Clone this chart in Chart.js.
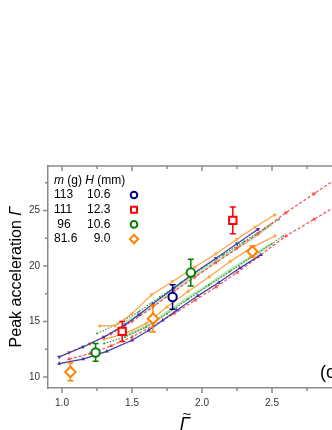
<!DOCTYPE html>
<html>
<head>
<meta charset="utf-8">
<script src="https://cdn.jsdelivr.net/npm/chart.js@4.4.1/dist/chart.umd.min.js"></script>
<style>
  html, body { margin: 0; padding: 0; background: #fff; overflow: hidden; }
  #wrap { position: absolute; left: 0; top: 0; width: 400px; height: 430px; }
</style>
</head>
<body>
<div id="wrap"><canvas id="chart"></canvas></div>
<script>
/* ── data ── */

// experiments (value, error bar half-length)
const navyX = [1.79];             const navyY = [17.2];              const navyErr = [1.1];
const redX = [1.43, 2.22];        const redY = [14.1, 24.1];         const redErr = [0.9, 1.2];
const greenX = [1.24, 1.92];      const greenY = [12.2, 19.4];       const greenErr = [0.8, 1.2];
const orangeX = [1.06, 1.65, 2.36]; const orangeY = [10.45, 15.25, 21.3]; const orangeErr = [0.8, 1.2, 0.5];

// simulations, upper and lower branch
const navyUpX = [0.98, 1.15, 1.3, 1.45, 1.55, 1.65, 1.8, 1.95, 2.1, 2.25, 2.4];
const navyUpY = [11.8, 12.7, 13.6, 14.7, 15.6, 16.6, 18.0, 19.4, 20.7, 22.0, 23.3];
const navyLoX = [0.98, 1.15, 1.32, 1.5, 1.62, 1.72, 1.82, 1.97, 2.12, 2.27, 2.42];
const navyLoY = [11.2, 11.6, 12.3, 13.3, 14.2, 15.1, 16.0, 17.3, 18.5, 19.8, 21.0];

const redUpX = [1.05, 1.2, 1.35, 1.5, 1.65, 1.8, 1.95, 2.1, 2.25, 2.4, 2.6, 2.8, 3.0, 3.2];
const redUpY = [12.2, 13.0, 13.9, 15.0, 16.3, 17.7, 19.0, 20.3, 21.6, 22.9, 24.8, 26.5, 28.2, 29.9];
const redLoX = [1.05, 1.2, 1.35, 1.5, 1.65, 1.8, 1.95, 2.1, 2.25, 2.4, 2.6, 2.8, 3.0, 3.2];
const redLoY = [11.6, 12.1, 12.8, 13.6, 14.6, 15.7, 16.9, 18.1, 19.4, 20.8, 22.7, 24.2, 25.7, 27.2];

const orUpX = [1.27, 1.38, 1.5, 1.64, 1.79, 1.95, 2.1, 2.25, 2.38, 2.52];
const orUpY = [14.6, 14.6, 15.7, 17.4, 18.6, 19.9, 21.1, 22.4, 23.5, 24.6];
const orLoX = [1.3, 1.45, 1.6, 1.75, 1.9, 2.05, 2.2, 2.35, 2.52];
const orLoY = [13.4, 13.9, 14.8, 16.3, 17.7, 19.0, 20.4, 21.6, 22.7];

const grUpX = [1.25, 1.4, 1.55, 1.7, 1.85, 2.0, 2.15, 2.3, 2.45, 2.55];
const grUpY = [13.9, 14.8, 15.9, 17.2, 18.5, 19.8, 21.0, 22.2, 23.4, 24.2];
const grLoX = [1.3, 1.45, 1.6, 1.75, 1.9, 2.05, 2.2, 2.35, 2.5, 2.58];
const grLoY = [13.0, 13.6, 14.5, 15.7, 17.0, 18.3, 19.5, 20.8, 22.0, 22.7];

const lgUpX = [1.45, 1.6, 1.75, 1.9, 2.05, 2.2, 2.35, 2.5];
const lgUpY = [14.9, 16.0, 17.4, 18.7, 20.0, 21.2, 22.4, 23.8];
const lgLoX = [1.45, 1.6, 1.75, 1.9, 2.05, 2.2, 2.35, 2.5];
const lgLoY = [13.7, 14.5, 15.8, 17.1, 18.3, 19.6, 20.8, 22.0];

// axes
const xTicks = [1.0, 1.5, 2.0, 2.5, 3.0];
const xMinorTicks = [1.25, 1.75, 2.25, 2.75];
const yTicks = [10, 15, 20, 25];
const yMinorTicks = [12.5, 17.5, 22.5, 27.5];

// legend text
const legendMass = ['113', '111', ' 96', '81.6'];
const legendHeight = ['10.6', '12.3', '10.6', '  9.0'];

/* ── styling ── */
const FONT = "'Liberation Sans', Arial, sans-serif";
const AXIS = '#8a8a8a';
const C = { navy: '#000080', red: '#ff0000', green: '#008000', orange: '#ff8000' };

const pts = (xs, ys) => xs.map((x, i) => ({ x: x, y: ys[i] }));

function expSet(xs, ys, errs, color, style, r) {
    return {
        data: pts(xs, ys), errY: errs,
        borderColor: color, backgroundColor: '#fff',
        pointStyle: style, pointRadius: r, pointBorderWidth: 2, showLine: false
    };
}

function simSet(xs, ys, color, down, extra) {
    return Object.assign({
        data: pts(xs, ys), showLine: true,
        borderColor: color, backgroundColor: color, borderWidth: 1.2,
        pointStyle: 'triangle', pointRadius: 2.4, pointBorderWidth: 0,
        pointRotation: down ? 180 : 0
    }, extra || {});
}

const datasets = [
    expSet(navyX, navyY, navyErr, C.navy, 'circle', 4.2),
    expSet(redX, redY, redErr, C.red, 'rect', 5.2),
    expSet(greenX, greenY, greenErr, C.green, 'circle', 4.2),
    expSet(orangeX, orangeY, orangeErr, C.orange, 'rectRot', 5.2),
    simSet(navyUpX, navyUpY, '#3a3aa8', true),
    simSet(navyLoX, navyLoY, '#3a3aa8', false),
    simSet(redUpX, redUpY, '#ff4a4a', true, { borderDash: [3, 2] }),
    simSet(redLoX, redLoY, '#ff4a4a', false, { borderDash: [3, 2] }),
    simSet(orUpX, orUpY, '#ffa040', true),
    simSet(orLoX, orLoY, '#ffa040', false),
    simSet(grUpX, grUpY, '#3a9a3a', true, { borderDash: [1.5, 1.5], pointRadius: 1.5 }),
    simSet(grLoX, grLoY, '#3a9a3a', false, { borderDash: [1.5, 1.5], pointRadius: 1.5 }),
    simSet(lgUpX, lgUpY, 'rgba(150,210,150,0.6)', true, { borderWidth: 3, pointRadius: 0 }),
    simSet(lgLoX, lgLoY, 'rgba(150,210,150,0.6)', false, { borderWidth: 3, pointRadius: 0 })
];

// error bars under the experimental markers
const errorBars = {
    id: 'errorBars',
    beforeDatasetDraw(chart, args) {
        const ds = chart.data.datasets[args.index];
        if (!ds.errY) return;
        const xs = chart.scales.x, ys = chart.scales.y, ctx = chart.ctx;
        ctx.save();
        ctx.strokeStyle = ds.borderColor;
        ctx.lineWidth = 1.5;
        ds.data.forEach((p, i) => {
            const px = xs.getPixelForValue(p.x);
            const top = ys.getPixelForValue(p.y + ds.errY[i]);
            const bot = ys.getPixelForValue(p.y - ds.errY[i]);
            ctx.beginPath();
            ctx.moveTo(px, top); ctx.lineTo(px, bot);
            ctx.moveTo(px - 3, top); ctx.lineTo(px + 3, top);
            ctx.moveTo(px - 3, bot); ctx.lineTo(px + 3, bot);
            ctx.stroke();
        });
        ctx.restore();
    }
};

// frame ticks, titles, legend
const decor = {
    id: 'decor',
    afterDraw(chart) {
        const ctx = chart.ctx, a = chart.chartArea;
        const xs = chart.scales.x, ys = chart.scales.y;
        ctx.save();
        ctx.strokeStyle = AXIS;
        ctx.lineWidth = 1.5;
        ctx.beginPath();
        ctx.moveTo(a.left, a.top); ctx.lineTo(a.right, a.top);
        const xt = (v, len) => {
            const p = xs.getPixelForValue(v);
            ctx.moveTo(p, a.bottom); ctx.lineTo(p, a.bottom + len);
            ctx.moveTo(p, a.top); ctx.lineTo(p, a.top + len);
        };
        xTicks.forEach(v => xt(v, 5));
        xMinorTicks.forEach(v => xt(v, 3));
        const yt = (v, len) => {
            const p = ys.getPixelForValue(v);
            ctx.moveTo(a.left, p); ctx.lineTo(a.left - len, p);
        };
        yTicks.forEach(v => yt(v, 5));
        yMinorTicks.forEach(v => yt(v, 3));
        ctx.stroke();

        // y title
        ctx.fillStyle = '#000';
        ctx.translate(17, (a.top + a.bottom) / 2);
        ctx.rotate(-Math.PI / 2);
        ctx.textBaseline = 'middle';
        ctx.font = '16px ' + FONT;
        const t1 = 'Peak acceleration ';
        const w1 = ctx.measureText(t1).width;
        ctx.font = 'italic 16px ' + FONT;
        const w2 = ctx.measureText('\u0393').width;
        let sx = -(w1 + w2) / 2;
        ctx.font = '16px ' + FONT;
        ctx.fillText(t1, sx, 0);
        ctx.font = 'italic 16px ' + FONT;
        ctx.fillText('\u0393', sx + w1, 0);
        ctx.setTransform(1, 0, 0, 1, 0, 0);

        // x title (Gamma with tilde)
        ctx.font = 'italic 18px ' + FONT;
        ctx.textAlign = 'center';
        ctx.textBaseline = 'alphabetic';
        ctx.fillText('\u0393', 185, 430);
        ctx.font = '15px ' + FONT;
        ctx.fillText('~', 187, 419);

        // panel tag
        ctx.textAlign = 'left';
        ctx.textBaseline = 'middle';
        ctx.font = '18px ' + FONT;
        ctx.fillText('(c)', 320, 373);

        // legend
        ctx.textBaseline = 'middle';
        let x = 54;
        const hy = 181;
        const seg = (txt, italic) => {
            ctx.font = (italic ? 'italic ' : '') + '12px ' + FONT;
            ctx.fillText(txt, x, hy);
            x += ctx.measureText(txt).width;
        };
        seg('m', true); seg(' (g) ', false); seg('H', true); seg(' (mm)', false);
        const marks = [[C.navy, 'circle', 3.3], [C.red, 'rect', 4.2], [C.green, 'circle', 3.3], [C.orange, 'rectRot', 4.2]];
        ctx.font = '12px ' + FONT;
        legendMass.forEach((m, i) => {
            const y = 195 + i * 14.7;
            ctx.fillStyle = '#000';
            ctx.fillText(m, 54, y);
            ctx.fillText(legendHeight[i], 87, y);
            ctx.strokeStyle = marks[i][0];
            ctx.fillStyle = '#fff';
            ctx.lineWidth = 2;
            Chart.helpers.drawPoint(ctx, { pointStyle: marks[i][1], radius: marks[i][2], rotation: 0, borderWidth: 2 }, 134, y);
        });
        ctx.restore();
    }
};

new Chart(document.getElementById('chart'), {
    type: 'scatter',
    data: { datasets: datasets },
    plugins: [errorBars, decor],
    options: {
        responsive: true,
        maintainAspectRatio: false,
        animation: false,
        layout: { padding: { top: 166, right: 30, left: 0, bottom: 0 } },
        plugins: { legend: { display: false }, tooltip: { enabled: false } },
        scales: {
            x: {
                type: 'linear', min: 0.9, max: 3.2,
                afterBuildTicks: s => { s.ticks = xTicks.map(v => ({ value: v })); },
                afterFit: s => { s.height = 42; },
                grid: { display: false, drawTicks: false },
                border: { display: true, color: AXIS, width: 1.5 },
                ticks: { callback: v => v.toFixed(1), color: '#333', padding: 9, maxRotation: 0, font: { family: FONT, size: 10 } }
            },
            y: {
                type: 'linear', min: 9, max: 29,
                afterBuildTicks: s => { s.ticks = yTicks.map(v => ({ value: v })); },
                afterFit: s => { s.width = 48; },
                grid: { display: false, drawTicks: false },
                border: { display: true, color: AXIS, width: 1.5 },
                ticks: { color: '#333', padding: 8, font: { family: FONT, size: 10 } }
            }
        }
    }
});
</script>
</body>
</html>
